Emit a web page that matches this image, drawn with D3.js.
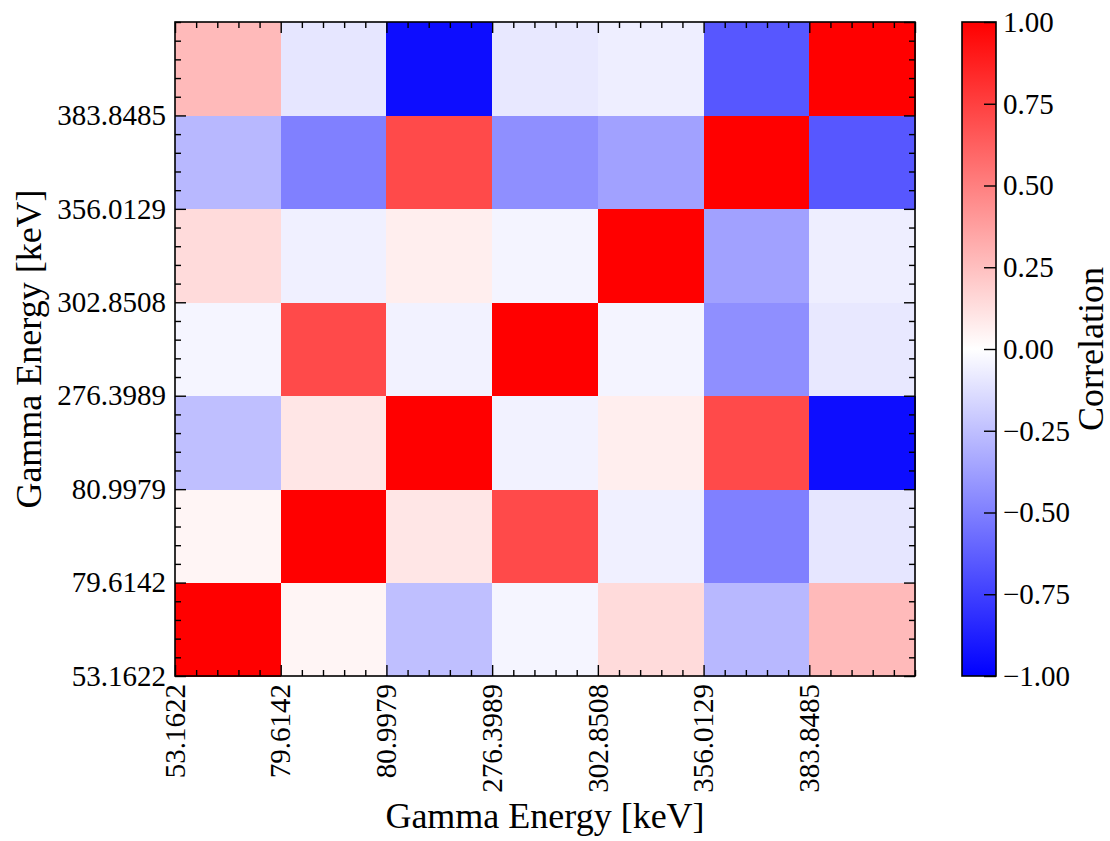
<!DOCTYPE html>
<html><head><meta charset="utf-8">
<script src="https://cdn.jsdelivr.net/npm/d3@7"></script>
<style>
body{margin:0;background:#fff}
svg text{font-family:"Liberation Serif","Times New Roman",serif !important;fill:#000}
</style>
</head><body>
<svg id="c" width="1110" height="841"></svg>
<script>
// Tick labels (cell boundaries), bottom-to-top / left-to-right
const energies = ["53.1622","79.6142","80.9979","276.3989","302.8508","356.0129","383.8485"];
// Correlation matrix; row 0 = bottom row, column 0 = left column
const corrRow0 = [1.00, 0.04, -0.25, -0.04, 0.14, -0.28, 0.27];
const corrRow1 = [0.04, 1.00, 0.10, 0.71, -0.06, -0.50, -0.10];
const corrRow2 = [-0.25, 0.10, 1.00, -0.05, 0.065, 0.71, -0.95];
const corrRow3 = [-0.04, 0.71, -0.05, 1.00, -0.045, -0.44, -0.09];
const corrRow4 = [0.14, -0.06, 0.065, -0.045, 1.00, -0.37, -0.065];
const corrRow5 = [-0.28, -0.50, 0.71, -0.44, -0.37, 1.00, -0.66];
const corrRow6 = [0.27, -0.10, -0.95, -0.09, -0.065, -0.66, 1.00];
const corr = [corrRow0, corrRow1, corrRow2, corrRow3, corrRow4, corrRow5, corrRow6];
const cbarTicks = [-1, -0.75, -0.5, -0.25, 0, 0.25, 0.5, 0.75, 1];

const SERIF = '"Liberation Serif", "Times New Roman", serif';
const svg = d3.select("#c");
const L = 175, R = 915, T = 22, B = 676;
const n = energies.length;
const x = d3.scaleLinear().domain([0, n]).range([L, R]);
const y = d3.scaleLinear().domain([0, n]).range([B, T]);
const color = d3.scaleLinear().domain([-1, 0, 1]).range(["#0000ff", "#ffffff", "#ff0000"]).interpolate(d3.interpolateRgb);

const cells = [];
corr.forEach((row, i) => row.forEach((v, j) => cells.push({i, j, v})));
svg.append("g").selectAll("rect").data(cells).join("rect")
  .attr("x", d => x(d.j)).attr("y", d => y(d.i + 1))
  .attr("width", x(1) - x(0) + 0.5).attr("height", y(0) - y(1) + 0.5)
  .attr("fill", d => color(d.v))
  .attr("shape-rendering", "crispEdges");

const major = d3.range(0, n + 1);
const minor = d3.range(0, n * 5 + 1).filter(k => k % 5 !== 0).map(k => k / 5);
const MAJ = 11, MIN = 6, FS = 29, LFS = 36;

function styleAxis(g) {
  g.attr("font-family", null).attr("font-size", null);
  g.select(".domain").remove();
  g.selectAll(".tick line").attr("stroke", "#000").attr("stroke-width", 1.4);
  g.selectAll(".tick text").style("font-family", SERIF).style("font-size", FS + "px");
}
// bottom
const gb = svg.append("g").attr("transform", `translate(0,${B})`)
  .call(d3.axisBottom(x).tickValues(major.slice(0, n)).tickFormat(d => energies[d]).tickSize(-MAJ).tickPadding(0));
styleAxis(gb);
gb.selectAll(".tick text")
  .attr("transform", "rotate(-90)").attr("text-anchor", "end")
  .attr("x", -8).attr("y", 0).attr("dy", "0.32em");
svg.append("g").attr("transform", `translate(0,${B})`)
  .call(d3.axisBottom(x).tickValues(minor.concat([n])).tickFormat("").tickSize(-MIN)).call(styleAxis);
// top
svg.append("g").attr("transform", `translate(0,${T})`)
  .call(d3.axisTop(x).tickValues(major).tickFormat("").tickSize(-MAJ)).call(styleAxis);
svg.append("g").attr("transform", `translate(0,${T})`)
  .call(d3.axisTop(x).tickValues(minor).tickFormat("").tickSize(-MIN)).call(styleAxis);
// left
const gl = svg.append("g").attr("transform", `translate(${L},0)`)
  .call(d3.axisLeft(y).tickValues(major.slice(0, n)).tickFormat(d => energies[d]).tickSize(-MAJ).tickPadding(9));
styleAxis(gl);
svg.append("g").attr("transform", `translate(${L},0)`)
  .call(d3.axisLeft(y).tickValues(minor.concat([n])).tickFormat("").tickSize(-MIN)).call(styleAxis);
// right
svg.append("g").attr("transform", `translate(${R},0)`)
  .call(d3.axisRight(y).tickValues(major).tickFormat("").tickSize(-MAJ)).call(styleAxis);
svg.append("g").attr("transform", `translate(${R},0)`)
  .call(d3.axisRight(y).tickValues(minor).tickFormat("").tickSize(-MIN)).call(styleAxis);

// frame
svg.append("rect").attr("x", L).attr("y", T).attr("width", R - L).attr("height", B - T)
  .attr("fill", "none").attr("stroke", "#000").attr("stroke-width", 1.6);

// axis labels
svg.append("text").attr("x", (L + R) / 2).attr("y", 828).attr("text-anchor", "middle")
  .style("font-size", LFS + "px").text("Gamma Energy [keV]");
svg.append("text").attr("transform", `translate(41,${(T + B) / 2}) rotate(-90)`).attr("text-anchor", "middle")
  .style("font-size", LFS + "px").text("Gamma Energy [keV]");

// colorbar
const CL = 962, CR = 996;
const defs = svg.append("defs");
const grad = defs.append("linearGradient").attr("id", "cb").attr("x1", 0).attr("y1", 1).attr("x2", 0).attr("y2", 0);
[-1, 0, 1].forEach(v => grad.append("stop").attr("offset", (v + 1) / 2).attr("stop-color", color(v)));
const cy = d3.scaleLinear().domain([-1, 1]).range([B, T]);
svg.append("rect").attr("x", CL).attr("y", T).attr("width", CR - CL).attr("height", B - T)
  .attr("fill", "url(#cb)");
const gc = svg.append("g").attr("transform", `translate(${CR},0)`)
  .call(d3.axisRight(cy).tickValues(cbarTicks).tickFormat(d => d3.format(".2f")(d).replace("-", "\u2212")).tickSize(-12).tickPadding(7));
styleAxis(gc);
gc.selectAll(".tick text").attr("x", 7);
svg.append("rect").attr("x", CL).attr("y", T).attr("width", CR - CL).attr("height", B - T)
  .attr("fill", "none").attr("stroke", "#000").attr("stroke-width", 1.6);
svg.append("text").attr("transform", `translate(1103,${(T + B) / 2}) rotate(-90)`).attr("text-anchor", "middle")
  .style("font-size", LFS + "px").text("Correlation");
</script>
</body></html>
